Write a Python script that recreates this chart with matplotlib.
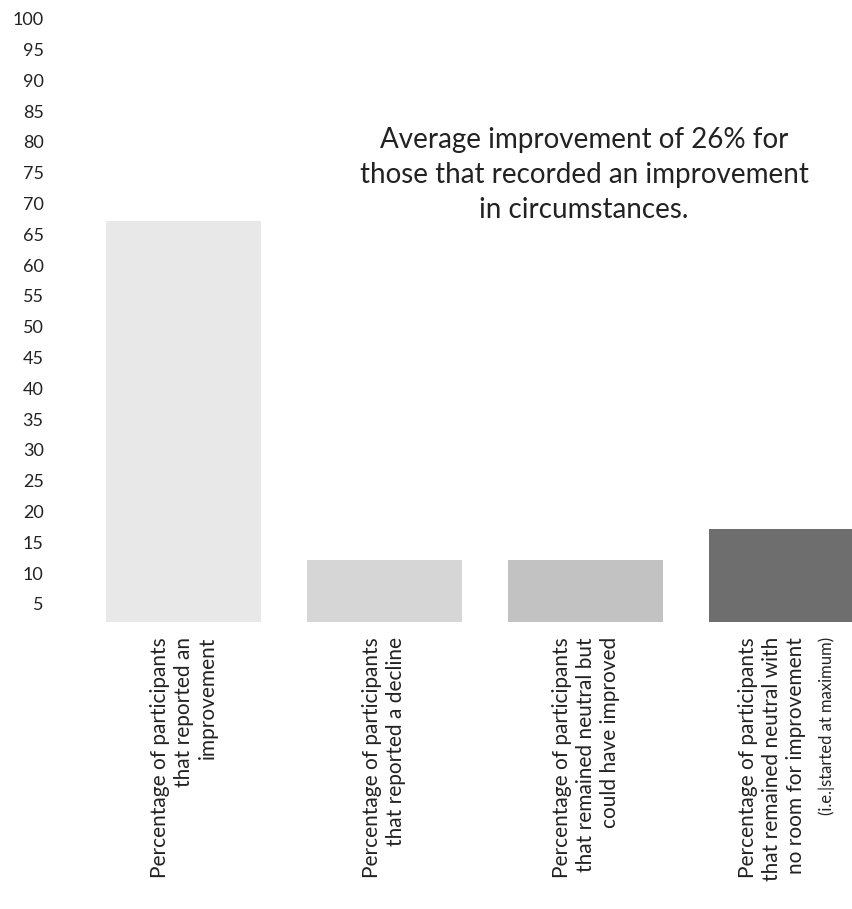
#!/usr/bin/python3

from matplotlib import pyplot as plt
from matplotlib import transforms
import matplotlib

matplotlib.rcParams['font.family'] = ['Lato', 'DejaVu Sans']

labels = [
    "Percentage of participants\nthat reported an\nimprovement",
    "Percentage of participants\nthat reported a decline",
    "Percentage of participants\nthat remained neutral but\ncould have improved",
    "Percentage of participants\nthat remained neutral with\nno room for improvement",
]
note_last = "(i.e.|started at maximum)"
values = [65, 10, 10, 15]
colors = ['#e8e8e8', '#d6d6d6', '#c2c2c2', '#6e6e6e']
yticks = list(range(5, 101, 5))
summary = ("Average improvement of 26% for\n"
           "those that recorded an improvement\n"
           "in circumstances.")

W, H = 853, 909
fig = plt.figure(figsize=(W / 100, H / 100), dpi=100)
# axes box in pixels: left 95, bottom 621.7 from top, 616 px tall
ax = fig.add_axes([95 / W, (H - 621.7) / H, (W - 95) / W, 616 / H])

x = list(range(len(values)))
ax.bar(x, values, width=0.77, color=colors, edgecolor='none', zorder=2)

ax.set_ylim(0, 100)
ax.set_xlim((95 - 183.5) / 201, (W - 183.5) / 201)
ax.set_yticks(yticks)
ax.set_yticklabels([str(t) for t in yticks])
ax.tick_params(axis='y', length=0, pad=37, labelsize=13, labelcolor='#222222')
ax.set_xticks([])
for s in ax.spines.values():
    s.set_visible(False)

# tick labels sit a little below their gridline position
shift = transforms.ScaledTranslation(0, -0.13, fig.dpi_scale_trans)
for lab in ax.get_yticklabels():
    lab.set_transform(lab.get_transform() + shift)

# category labels, rotated, hanging under each bar
lab_tr = transforms.blended_transform_factory(ax.transData, fig.transFigure)
ytop = (H - 637) / H
for i, txt in enumerate(labels):
    xi = i if i < 3 else i - 0.07
    ax.text(xi, ytop, txt, transform=lab_tr, rotation=90, ha='center', va='top',
            multialignment='right', fontsize=15, color='#222222', linespacing=1.25)
ax.text(3 + 0.2, ytop, note_last, transform=lab_tr, rotation=90, ha='center',
        va='top', fontsize=12, color='#222222')

fig.text(584 / W, 1 - 175 / H, summary, ha='center', va='center',
         multialignment='center', fontsize=20, color='#222222', linespacing=1.45)

plt.savefig('out.png', dpi=100)
